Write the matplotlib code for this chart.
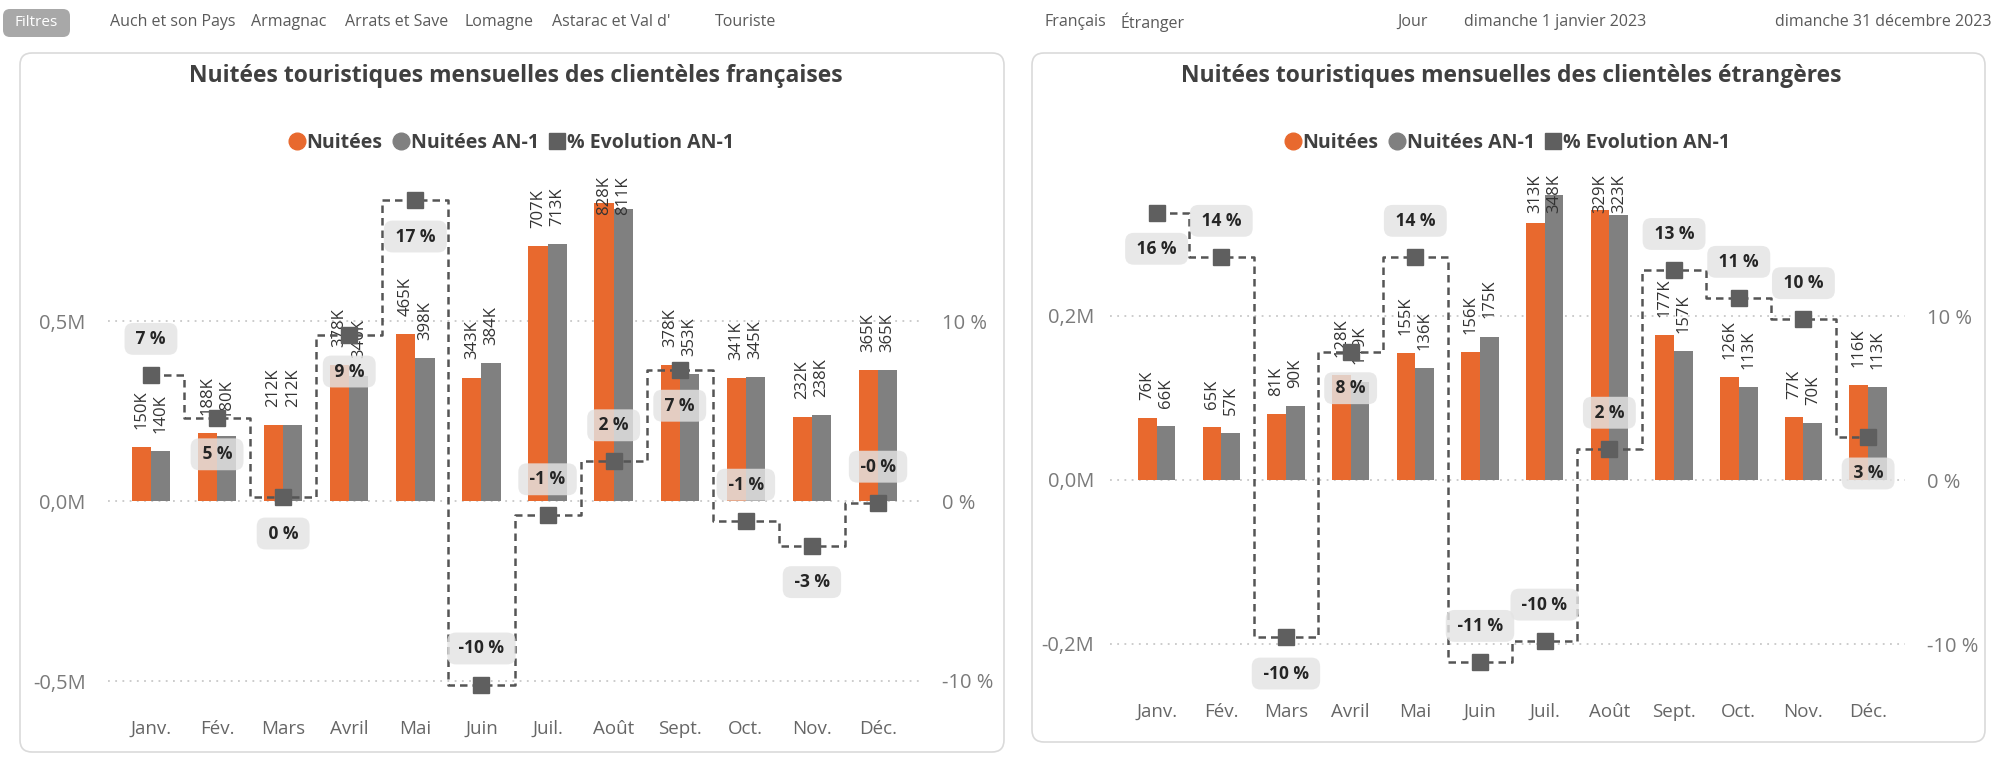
import matplotlib
matplotlib.use('Agg')
import matplotlib.pyplot as plt
import matplotlib.transforms as mtransforms
from matplotlib.patches import FancyBboxPatch
from matplotlib.lines import Line2D

plt.rcParams['font.family'] = ['Open Sans', 'DejaVu Sans']

W, H = 1991, 757

months = ['Janv.', 'Fév.', 'Mars', 'Avril', 'Mai', 'Juin', 'Juil.', 'Août',
          'Sept.', 'Oct.', 'Nov.', 'Déc.']

# clientèles françaises (milliers de nuitées)
fr_nuitees = [150, 188, 212, 378, 465, 343, 707, 828, 378, 341, 232, 365]
fr_nuitees_an1 = [140, 180, 212, 346, 398, 384, 713, 811, 353, 345, 238, 365]
fr_evol = [7.0, 4.6, 0.2, 9.2, 16.7, -10.2, -0.8, 2.2, 7.3, -1.1, -2.5, -0.1]
fr_evol_lbl = ['7 %', '5 %', '0 %', '9 %', '17 %', '-10 %', '-1 %', '2 %',
               '7 %', '-1 %', '-3 %', '-0 %']

# clientèles étrangères (milliers de nuitées)
et_nuitees = [76, 65, 81, 128, 155, 156, 313, 329, 177, 126, 77, 116]
et_nuitees_an1 = [66, 57, 90, 119, 136, 175, 348, 323, 157, 113, 70, 113]
et_evol = [16.3, 13.6, -9.6, 7.8, 13.6, -11.1, -9.8, 1.9, 12.8, 11.1, 9.8, 2.6]
et_evol_lbl = ['16 %', '14 %', '-10 %', '8 %', '14 %', '-11 %', '-10 %', '2 %',
               '13 %', '11 %', '10 %', '3 %']

# côté des étiquettes % (1 = au-dessus, -1 = en dessous)
fr_side = [1, -1, -1, -1, -1, 1, 1, 1, -1, 1, -1, 1]
et_side = [-1, 1, -1, -1, 1, 1, 1, 1, 1, 1, 1, -1]

filters = [('Auch et son Pays', 110), ('Armagnac', 251), ('Arrats et Save', 345),
           ('Lomagne', 465), ("Astarac et Val d'", 552), ('Touriste', 715),
           ('Français', 1044), ('Étranger', 1121), ('Jour', 1397),
           ('dimanche 1 janvier 2023', 1464), ('dimanche 31 décembre 2023', 1775)]

ORANGE = '#E8692E'
GREY = '#808080'
DARK = '#5F5F5F'

fig = plt.figure(figsize=(W / 100, H / 100), dpi=100)
fig.patch.set_facecolor('white')


def pbox(x0, y0, x1, y1, **kw):
    # rounded box given in pixel coords (origin top-left)
    p = FancyBboxPatch((x0, H - y1), x1 - x0, y1 - y0,
                       transform=mtransforms.IdentityTransform(), **kw)
    fig.add_artist(p)
    return p


def add_axes_px(l, t, r, b):
    ax = fig.add_axes([l / W, 1 - b / H, (r - l) / W, (b - t) / H])
    ax.patch.set_alpha(0)
    return ax


# header
pbox(3, 9, 70, 37, boxstyle='round,pad=0,rounding_size=7', fc='#A8A8A8', ec='none')
fig.text(36 / W, 1 - 23 / H, 'Filtres', color='white', fontsize=11, ha='center', va='center')
for txt, x in filters:
    fig.text(x / W, 1 - 22 / H, txt, color='#5A5A5A', fontsize=11.5, ha='left', va='center')

# cards
pbox(20, 53, 1004, 752, boxstyle='round,pad=0,rounding_size=12', fc='white', ec='#DADADA',
     lw=1.2, zorder=-5)
pbox(1032, 53, 1985, 742, boxstyle='round,pad=0,rounding_size=12', fc='white', ec='#DADADA',
     lw=1.2, zorder=-5)


def panel(ax, nuit, an1, evol, lbls, sides, px_per_M, zero_px, top_px, bot_px,
          step_M, pct_ratio, title, title_xy, leg_xy, ypad, rpad):
    x = list(range(12))
    w = 0.29
    ylo = -(bot_px - zero_px) / px_per_M
    yhi = (zero_px - top_px) / px_per_M
    ax.set_ylim(ylo, yhi)
    ax.bar([i - w / 2 for i in x], [v / 1000 for v in nuit], w, color=ORANGE, zorder=2)
    ax.bar([i + w / 2 for i in x], [v / 1000 for v in an1], w, color=GREY, zorder=2)
    for yv in (-step_M, 0, step_M):
        ax.axhline(yv, color='#C8C8C8', lw=1.3, ls=(0, (1, 3)), zorder=1)

    # valeurs au-dessus des colonnes
    thr = yhi - 62 / px_per_M
    for i in x:
        for off, v in ((-w / 2, nuit[i]), (w / 2, an1[i])):
            if v / 1000 > thr:
                ax.annotate(f'{v}K', (i + off, yhi), xytext=(0, -1), textcoords='offset points',
                            rotation=90, ha='center', va='top', fontsize=12, color='#333333', zorder=3)
            else:
                ax.annotate(f'{v}K', (i + off, v / 1000), xytext=(0, 13), textcoords='offset points',
                            rotation=90, ha='center', va='bottom', fontsize=12, color='#333333', zorder=3)

    ax.set_xticks(x)
    ax.set_xticklabels(months, fontsize=13.5, color='#666666')
    ax.set_yticks([-step_M, 0, step_M])
    ax.set_yticklabels([f'{-step_M:.1f}M'.replace('.', ','), '0,0M',
                        f'{step_M:.1f}M'.replace('.', ',')], fontsize=14.5, color='#7A7A7A')
    ax.tick_params(axis='x', length=0, pad=11)
    ax.tick_params(axis='y', length=0, pad=ypad)
    for s in ax.spines.values():
        s.set_visible(False)

    ax2 = ax.twinx()
    ax2.patch.set_alpha(0)
    ax2.set_ylim(ylo * pct_ratio, yhi * pct_ratio)
    ax2.plot(x, evol, drawstyle='steps-mid', ls=(0, (3, 2)), color='#555555', lw=1.8, zorder=4)
    ax2.plot(x, evol, 's', ms=12, color=DARK, zorder=5)
    for i in x:
        ax2.annotate(f' {lbls[i]} ', (i, evol[i]), xytext=(0, 26 * sides[i]), textcoords='offset points',
                     ha='center', va='center', fontsize=12.5, fontweight='bold', color='#252525', zorder=6,
                     bbox=dict(boxstyle='round,pad=0.4,rounding_size=0.5', fc='#E4E4E4', ec='none', alpha=0.82))
    ax2.set_yticks([-10, 0, 10])
    ax2.set_yticklabels(['-10 %', '0 %', '10 %'], fontsize=14.5, color='#7A7A7A')
    ax2.tick_params(axis='y', length=0, pad=rpad)
    for s in ax2.spines.values():
        s.set_visible(False)

    fig.text(title_xy[0] / W, 1 - title_xy[1] / H, title, fontsize=16.5, fontweight='bold',
             color='#404040', ha='center', va='center')
    handles = [Line2D([], [], marker='o', ls='', ms=12, color=ORANGE),
               Line2D([], [], marker='o', ls='', ms=12, color=GREY),
               Line2D([], [], marker='s', ls='', ms=11.5, color=DARK)]
    fig.legend(handles, ['Nuitées', 'Nuitées AN-1', '% Evolution AN-1'], ncol=3, frameon=False,
               loc='center', bbox_to_anchor=(leg_xy[0] / W, 1 - leg_xy[1] / H),
               prop={'weight': 'bold', 'size': 14}, labelcolor='#404040',
               handletextpad=0.05, columnspacing=0.5, handlelength=0.9)


# panneau gauche : clientèles françaises
ax_l = add_axes_px(108, 175, 921, 705)
ax_l.set_xlim(-0.65, 11.65)
panel(ax_l, fr_nuitees, fr_nuitees_an1, fr_evol, fr_evol_lbl, fr_side,
      px_per_M=360, zero_px=501, top_px=175, bot_px=705, step_M=0.5, pct_ratio=20,
      title='Nuitées touristiques mensuelles des clientèles françaises', title_xy=(516, 76),
      leg_xy=(511, 143), ypad=16, rpad=15)

# panneau droit : clientèles étrangères
ax_r = add_axes_px(1110, 173, 1905, 688)
ax_r.set_xlim(-0.72, 11.57)
panel(ax_r, et_nuitees, et_nuitees_an1, et_evol, et_evol_lbl, et_side,
      px_per_M=820, zero_px=480, top_px=173, bot_px=688, step_M=0.2, pct_ratio=50,
      title='Nuitées touristiques mensuelles des clientèles étrangères', title_xy=(1511, 76),
      leg_xy=(1507, 143), ypad=11.5, rpad=16)

fig.savefig('out.png', dpi=100, facecolor='white')
